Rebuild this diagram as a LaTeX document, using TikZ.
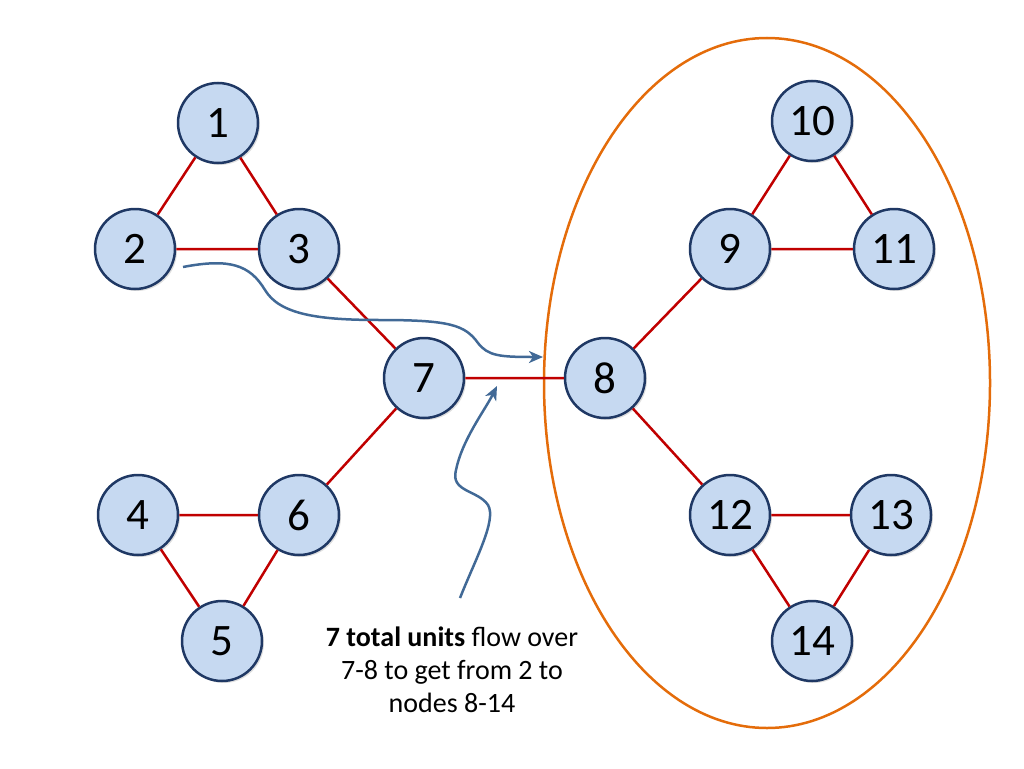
\documentclass[tikz,border=0pt]{standalone}
\usepackage{fontspec}
\setmainfont{Carlito}
\usetikzlibrary{shadows,arrows.meta}
\definecolor{nodefill}{RGB}{198,217,241}
\definecolor{nodeline}{RGB}{31,56,100}
\definecolor{edgered}{RGB}{192,0,0}
\definecolor{flowblue}{RGB}{65,105,150}
\definecolor{ringorange}{RGB}{228,108,10}
\tikzset{
  vert/.style={circle, minimum size=80pt, inner sep=0pt, fill=nodefill, draw=nodeline, line width=2.5pt,
    font=\fontsize{45}{50}\selectfont, drop shadow={opacity=0.25, shadow xshift=2pt, shadow yshift=-2pt}},
  link/.style={draw=edgered, line width=2.5pt},
  flow/.style={draw=flowblue, line width=2.5pt, -{Stealth[length=14pt,width=12pt,inset=4pt]}},
}
\begin{document}
\begin{tikzpicture}[x=1pt,y=-1pt]
\useasboundingbox (0,0) rectangle (1024,768);
\draw[ringorange, line width=2.5pt] (767,383) ellipse [x radius=223, y radius=345];
\node[vert] (n1) at (218,123) {1};
\node[vert] (n2) at (135,249) {2};
\node[vert] (n3) at (299,249) {3};
\node[vert] (n7) at (424,378) {7};
\node[vert] (n8) at (605,378) {8};
\node[vert] (n9) at (730,249) {9};
\node[vert] (n10) at (812,121) {10};
\node[vert] (n11) at (894,249) {11};
\node[vert] (n4) at (138,515) {4};
\node[vert] (n6) at (299,515) {6};
\node[vert] (n5) at (222,641) {5};
\node[vert] (n12) at (730,515) {12};
\node[vert] (n13) at (891,515) {13};
\node[vert] (n14) at (812,641) {14};
\path[link] (n1) -- (n2) (n1) -- (n3) (n2) -- (n3) (n3) -- (n7) (n7) -- (n6)
  (n4) -- (n6) (n4) -- (n5) (n5) -- (n6) (n7) -- (n8) (n8) -- (n9) (n9) -- (n10)
  (n10) -- (n11) (n9) -- (n11) (n8) -- (n12) (n12) -- (n13) (n12) -- (n14) (n13) -- (n14);
\coordinate (a1s) at (183,267);
\coordinate (a1e) at (543,357);
\coordinate (a2s) at (460,598);
\coordinate (a2e) at (497,386);
\draw[flow] (a1s) .. controls (230,258) and (250,265) .. (265,290)
  .. controls (280,315) and (320,320) .. (380,320)
  .. controls (450,320) and (465,325) .. (478,343)
  .. controls (488,356) and (500,357) .. (a1e);
\draw[flow] (a2s) .. controls (475,560) and (497,520) .. (488,505)
  .. controls (478,490) and (450,492) .. (456,470)
  .. controls (462,440) and (485,410) .. (a2e);
\node[align=center, font=\fontsize{28}{33}\selectfont] (cap) at (452,670)
  {\textbf{7 total units} flow over\\7-8 to get from 2 to\\nodes 8-14};
\end{tikzpicture}
\end{document}
